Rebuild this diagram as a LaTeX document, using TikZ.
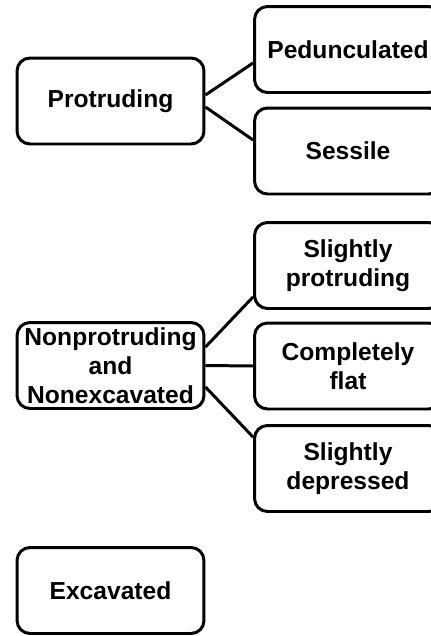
\documentclass[tikz,border=0pt]{standalone}
\usepackage{fontspec}
\setmainfont{Liberation Sans}
\usepackage{tikz}
\usetikzlibrary{shadows}

\tikzset{
  box/.style={draw, line width=1.7pt, rounded corners=0.26cm,
              minimum width=3.74cm, minimum height=1.72cm,
              align=center, inner sep=0pt, fill=white,
              font=\fontsize{14}{16.5}\selectfont\bfseries,
              drop shadow={opacity=0.18, shadow xshift=0.03cm, shadow yshift=-0.03cm}},
  link/.style={line width=1.7pt}
}

\begin{document}
\begin{tikzpicture}[x=0.02cm, y=-0.02cm]
   \useasboundingbox (0,0) rectangle (431,636);
   \begin{scope}
   \clip (0,0) rectangle (431,636);
   \node[box] (prot) at (110.5,101)   {Protruding};
   \node[box] (ped)  at (348,49.5)    {Pedunculated};
   \node[box] (ses)  at (348,151)     {Sessile};
   \node[box] (nonp) at (110.5,365.5) {Nonprotruding\\and\\Nonexcavated};
   \node[box] (slp)  at (348,265.5)   {Slightly\\protruding};
   \node[box] (flat) at (348,366)     {Completely\\flat};
   \node[box] (sld)  at (348,468.5)   {Slightly\\depressed};
   \node[box] (exc)  at (110.5,590.5) {Excavated};
   \foreach \a/\b/\s/\t in {prot/ped/0.12/-0.27, prot/ses/-0.12/0.22,
                            nonp/slp/0.37/-0.63, nonp/flat/0/0, nonp/sld/-0.43/0.63}
    \draw[link] ([yshift=\s cm]\a.east) -- ([yshift=\t cm]\b.west);
   \end{scope}
 \end{tikzpicture}
\end{document}
